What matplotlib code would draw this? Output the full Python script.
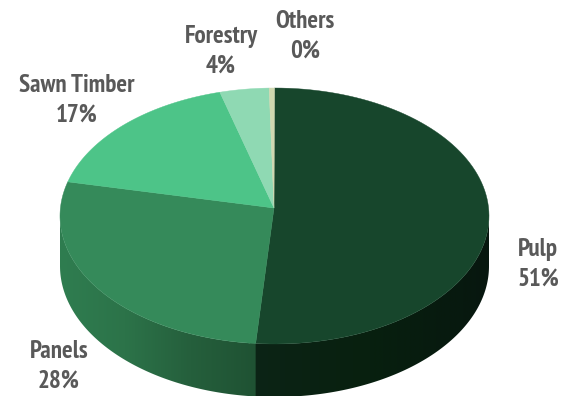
import numpy as np
import matplotlib
matplotlib.use('Agg')
import matplotlib.pyplot as plt
from matplotlib.colors import LinearSegmentedColormap
from matplotlib.patches import Polygon

plt.rcParams['font.family'] = ['PT Sans Narrow', 'Pragati Narrow', 'Liberation Sans', 'DejaVu Sans']

categories = ['Pulp', 'Panels', 'Sawn Timber', 'Forestry', 'Others']
shares = [51.4, 27.9, 16.6, 3.7, 0.4]
top_colors = ['#17462c', '#358a5a', '#4dc488', '#8fd9b3', '#d0d8b0']

# label centres in pixels
label_pos = [(538, 264), (59, 366), (77, 100), (221, 51), (305, 36)]

# pie shape in pixels
cx, cy = 274.5, 216
rx, ry = 214.5, 128
apex = (274, 208)
low_cy, low_ry = 266, 131


def rim(theta, y0=cy, r_y=ry):
    # theta is clockwise from 12 o'clock, degrees
    t = np.radians(theta)
    return cx + rx * np.sin(t), y0 - r_y * np.cos(t)


fig = plt.figure(figsize=(5.7, 3.96), dpi=100)
ax = fig.add_axes([0, 0, 1, 1])
ax.axis('off')

edges = np.cumsum([0] + shares) / sum(shares) * 360


# side wall first, gradient is clipped to the wall shape
def wall(th0, th1, colors, x0, x1):
    th = np.linspace(th0, th1, 150)
    xt, yt = rim(th)
    xb, yb = rim(th[::-1], low_cy, low_ry)
    pts = np.column_stack([np.r_[xt, xb], np.r_[yt, yb]])
    poly = Polygon(pts, closed=True, fc='none', ec='none', transform=ax.transData)
    ax.add_patch(poly)
    cmap = LinearSegmentedColormap.from_list('side', colors)
    grad = np.linspace(0, 1, 256).reshape(1, -1)
    im = ax.imshow(grad, cmap=cmap, extent=[x0, x1, 400, 200], aspect='auto', zorder=1)
    im.set_clip_path(poly)


split_x = rim(edges[1])[0]
wall(90, edges[1] + 1.5, ['#07170f', '#08200f', '#0c2416'], 489, split_x - 6)
wall(edges[1], 270, ['#1f5233', '#255f3c', '#2c7349', '#2f7d50'], split_x, 60)
ax.set_xlim(0, 570)
ax.set_ylim(396, 0)

# top face
for i in range(len(shares)):
    th = np.linspace(edges[i], edges[i + 1], 100)
    xs, ys = rim(th)
    ax.fill(np.r_[apex[0], xs], np.r_[apex[1], ys], color=top_colors[i], lw=0.3, zorder=2)

for cat, val, (x, y) in zip(categories, shares, label_pos):
    ax.text(x, y, f'{cat}\n{val:.0f}%', ha='center', va='center', fontsize=18,
            fontweight='bold', color='#595959', linespacing=1.38, zorder=3)

fig.savefig('out.png', dpi=100)
